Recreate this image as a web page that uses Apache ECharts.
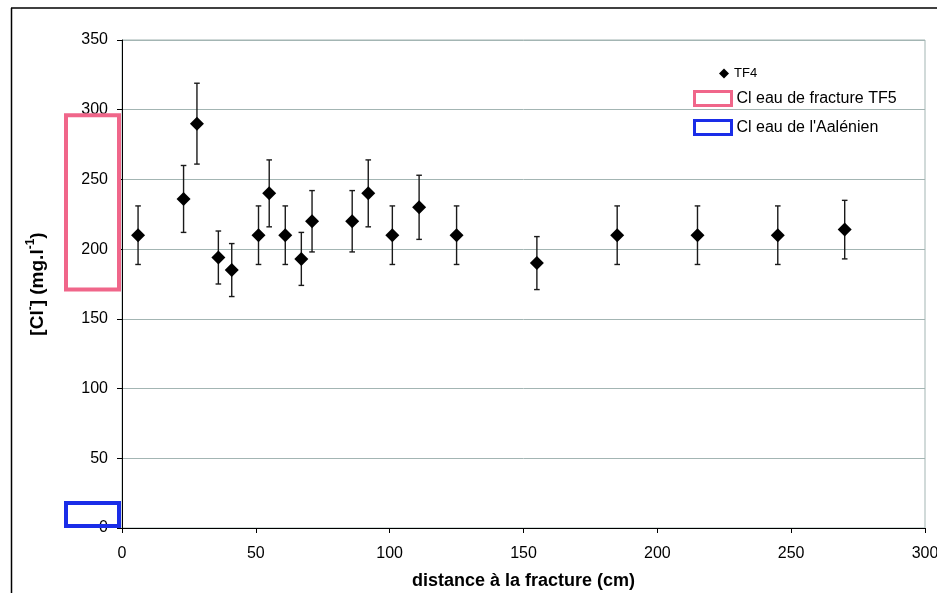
<!DOCTYPE html>
<html>
<head>
<meta charset="utf-8">
<script src="https://cdn.jsdelivr.net/npm/echarts@6/dist/echarts.min.js"></script>
<style>
html,body{margin:0;padding:0;background:#fff;}
#c{width:937px;height:593px;}
</style>
</head>
<body>
<div id="c"></div>
<script>
// distance to fracture (cm)
const distances = [6, 23, 28, 36, 41, 51, 55, 61, 67, 71, 86, 92, 101, 111, 125, 155, 185, 215, 245, 270];
// Cl- concentration (mg/l), series TF4
const chloride = [210, 236, 290, 194, 185, 210, 240, 210, 193, 220, 220, 240, 210, 230, 210, 190, 210, 210, 210, 214];
// error bar half-lengths (mg/l)
const errors = [21, 24, 29, 19, 19, 21, 24, 21, 19, 22, 22, 24, 21, 23, 21, 19, 21, 21, 21, 21];
// Cl range of TF5 fracture water and of Aalenian water (mg/l)
const tf5Range = [171, 296];
const aalenienRange = [1.5, 18];
const xTicks = [0, 50, 100, 150, 200, 250, 300];
const yTicks = [0, 50, 100, 150, 200, 250, 300, 350];

const FONT = '"Liberation Sans", Arial, Helvetica, sans-serif';
const PINK = '#f0668a';
const BLUE = '#1a2de8';
const GRID = '#a3b5b3';

const chart = echarts.init(document.getElementById('c'), null, {renderer: 'canvas'});

const pointData = distances.map((d, i) => [d, chloride[i]]);
const errData = distances.map((d, i) => [d, chloride[i], errors[i]]);

function rangeRenderer(color) {
  return function (params, api) {
    const lo = api.value(0), hi = api.value(1);
    const pHi = api.coord([0, hi]);
    const pLo = api.coord([0, lo]);
    const x0 = pHi[0];
    return {
      type: 'rect',
      shape: {x: x0 - 56, y: pHi[1], width: 53, height: pLo[1] - pHi[1]},
      style: {fill: 'none', stroke: color, lineWidth: 4}
    };
  };
}

const option = {
  animation: false,
  backgroundColor: '#ffffff',
  textStyle: {fontFamily: FONT},
  grid: {left: 122, right: 12, top: 40, bottom: 65, outerBoundsMode: 'none', containLabel: false,
    show: true, borderColor: GRID, borderWidth: 1, backgroundColor: 'transparent'},
  xAxis: {
    type: 'value', min: 0, max: 300, interval: 50,
    name: 'distance à la fracture (cm)', nameLocation: 'middle', nameGap: 44,
    nameTextStyle: {fontFamily: FONT, fontSize: 18, fontWeight: 'bold', color: '#000'},
    axisLine: {show: true, onZero: false, lineStyle: {color: '#000', width: 1}},
    axisTick: {show: true, length: 5, inside: false, lineStyle: {color: '#000'}},
    axisLabel: {fontFamily: FONT, fontSize: 16, color: '#000', margin: 18,
      formatter: v => xTicks.includes(v) ? String(v) : ''},
    splitLine: {show: false}
  },
  yAxis: {
    type: 'value', min: 0, max: 350, interval: 50,
    name: '{b|[Cl}{s|-}{b|] (mg.l}{s|-1}{b|)}', nameLocation: 'middle', nameGap: 75, nameRotate: 90,
    nameTextStyle: {
      fontFamily: FONT, fontSize: 19, fontWeight: 'bold', color: '#000',
      rich: {
        b: {fontFamily: FONT, fontSize: 19, fontWeight: 'bold', color: '#000', lineHeight: 22, verticalAlign: 'bottom'},
        s: {fontFamily: FONT, fontSize: 12, fontWeight: 'bold', color: '#000', lineHeight: 22, verticalAlign: 'top'}
      }
    },
    axisLine: {show: true, onZero: false, lineStyle: {color: '#000', width: 1}},
    axisTick: {show: true, length: 5, inside: false, lineStyle: {color: '#000'}},
    axisLabel: {fontFamily: FONT, fontSize: 16, color: '#000', margin: 14,
      formatter: v => yTicks.includes(v) ? String(v) : ''},
    splitLine: {show: true, lineStyle: {color: GRID, width: 1}}
  },
  legend: [
    {
      data: [{name: 'TF4', icon: 'diamond'}],
      left: 714, top: 62, orient: 'vertical',
      itemWidth: 10, itemHeight: 10,
      textStyle: {fontFamily: FONT, fontSize: 13, color: '#000'},
      selectedMode: false
    },
    {
      data: [
        {name: 'Cl eau de fracture TF5', icon: 'rect', itemStyle: {color: '#fff', borderColor: PINK, borderWidth: 3}},
        {name: "Cl eau de l'Aalénien", icon: 'rect', itemStyle: {color: '#fff', borderColor: BLUE, borderWidth: 3}}
      ],
      left: 688, top: 85, orient: 'vertical',
      itemWidth: 37, itemHeight: 14, itemGap: 12,
      textStyle: {fontFamily: FONT, fontSize: 16, color: '#000'},
      selectedMode: false
    }
  ],
  graphic: [
    {type: 'line', shape: {x1: 11.5, y1: 8, x2: 11.5, y2: 593}, style: {stroke: '#000', lineWidth: 1.5}, z: 100},
    {type: 'line', shape: {x1: 11, y1: 8, x2: 937, y2: 8}, style: {stroke: '#000', lineWidth: 1.5}, z: 100}
  ],
  series: [
    {
      name: 'Cl eau de fracture TF5', type: 'custom', coordinateSystem: 'cartesian2d',
      clip: false, silent: true, itemStyle: {color: PINK},
      encode: {y: [0, 1]},
      renderItem: rangeRenderer(PINK),
      data: [tf5Range], z: 5
    },
    {
      name: "Cl eau de l'Aalénien", type: 'custom', coordinateSystem: 'cartesian2d',
      clip: false, silent: true, itemStyle: {color: BLUE},
      encode: {y: [0, 1]},
      renderItem: rangeRenderer(BLUE),
      data: [aalenienRange], z: 5
    },
    {
      name: 'errbars', type: 'custom', coordinateSystem: 'cartesian2d', silent: true,
      encode: {x: 0, y: 1},
      renderItem: function (params, api) {
        const x = api.value(0), y = api.value(1), e = api.value(2);
        const top = api.coord([x, y + e]);
        const bot = api.coord([x, y - e]);
        const cw = 2.8;
        const st = {stroke: '#1a1a1a', lineWidth: 1.4};
        return {
          type: 'group',
          children: [
            {type: 'line', shape: {x1: top[0], y1: top[1], x2: bot[0], y2: bot[1]}, style: st},
            {type: 'line', shape: {x1: top[0] - cw, y1: top[1], x2: top[0] + cw, y2: top[1]}, style: st},
            {type: 'line', shape: {x1: bot[0] - cw, y1: bot[1], x2: bot[0] + cw, y2: bot[1]}, style: st}
          ]
        };
      },
      data: errData, z: 3
    },
    {
      name: 'TF4', type: 'scatter', symbol: 'diamond', symbolSize: 14,
      itemStyle: {color: '#000', opacity: 1},
      data: pointData, z: 10
    }
  ]
};
chart.setOption(option);
</script>
</body>
</html>
